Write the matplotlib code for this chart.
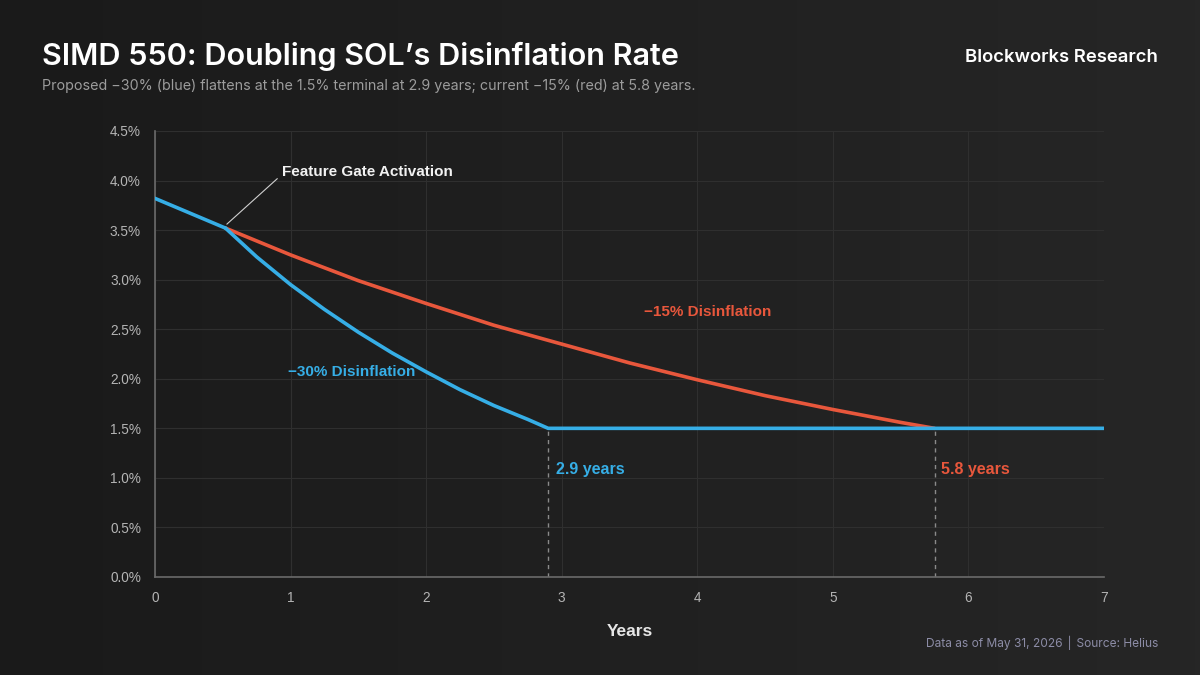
import numpy as np
import matplotlib
matplotlib.use("Agg")
import matplotlib.pyplot as plt
from matplotlib.ticker import FuncFormatter

# values (years, inflation %)
years_pre = [0.0, 0.52]
rate_pre = [3.82, 3.52]

years_blue = [0.52, 0.75, 1.0, 1.25, 1.5, 1.75, 2.0, 2.25, 2.5, 2.75, 2.9, 7.0]
rate_blue = [3.52, 3.23, 2.95, 2.70, 2.47, 2.26, 2.07, 1.89, 1.73, 1.59, 1.50, 1.50]

years_red = [0.52, 1.0, 1.5, 2.0, 2.5, 3.0, 3.5, 4.0, 4.5, 5.0, 5.5, 5.75]
rate_red = [3.52, 3.25, 2.99, 2.76, 2.54, 2.35, 2.16, 1.99, 1.83, 1.69, 1.56, 1.50]

terminal = 1.5
hit_blue = 2.9
hit_red = 5.75

x_ticks = [0, 1, 2, 3, 4, 5, 6, 7]
y_ticks = [0.0, 0.5, 1.0, 1.5, 2.0, 2.5, 3.0, 3.5, 4.0, 4.5]

BLUE = "#36aee6"
RED = "#e8573c"
BG = "#1d1d1d"
TXT = "#b4b4b4"

fig = plt.figure(figsize=(12, 6.75), dpi=100)
fig.patch.set_facecolor(BG)

# soft background gradient
grad = np.linspace(0, 1, 256).reshape(1, -1)
bg_ax = fig.add_axes([0, 0, 1, 1], zorder=-10)
bg_ax.imshow(grad, aspect="auto", cmap=matplotlib.colors.LinearSegmentedColormap.from_list(
    "bg", ["#1a1a1a", "#262626"]), extent=[0, 1, 0, 1])
bg_ax.axis("off")

ax = fig.add_axes([155 / 1200, 1 - 577 / 675, (1104 - 155) / 1200, (577 - 131) / 675])
ax.set_facecolor("none")

ax.plot(years_red, rate_red, color=RED, lw=2.6, solid_capstyle="round", zorder=3)
ax.plot(years_blue, rate_blue, color=BLUE, lw=2.6, solid_capstyle="round", zorder=4)
ax.plot(years_pre, rate_pre, color=BLUE, lw=2.6, solid_capstyle="round", zorder=4)

# dashed markers where each path hits the terminal rate
for xv in (hit_blue, hit_red):
    ax.plot([xv, xv], [0, terminal], color="#8a8a8a", lw=1, ls=(0, (3, 3)), zorder=2)

ax.set_xlim(0, 7)
ax.set_ylim(0, 4.5)
ax.set_xticks(x_ticks)
ax.set_yticks(y_ticks)
ax.yaxis.set_major_formatter(FuncFormatter(lambda v, p: f"{v:.1f}%"))
ax.grid(True, color="#2f2f2f", lw=0.8)
ax.set_axisbelow(True)
for s in ("top", "right"):
    ax.spines[s].set_visible(False)
for s in ("left", "bottom"):
    ax.spines[s].set_color("#6a6a6a")
    ax.spines[s].set_linewidth(1.2)
ax.tick_params(length=0, pad=10, labelsize=9.8, colors=TXT)
for lab in ax.get_xticklabels() + ax.get_yticklabels():
    lab.set_fontfamily("Liberation Sans")

ax.set_xlabel("Years", fontsize=12.5, fontweight="bold", color="#e6e6e6",
              family="Liberation Sans", labelpad=14)

# annotations
ax.annotate("Feature Gate Activation", xy=(0.53, 3.56), xytext=(0.94, 4.09),
            fontsize=11, fontweight="bold", color="#f2f2f2", family="Liberation Sans",
            ha="left", va="center",
            arrowprops=dict(arrowstyle="-", color="#d0d0d0", lw=0.8, shrinkA=0,
                            shrinkB=0, relpos=(-0.03, 0.0)))
ax.text(4.08, 2.67, "\u221215% Disinflation", color=RED, fontsize=11, fontweight="bold",
        family="Liberation Sans", ha="center", va="center")
ax.text(1.45, 2.07, "\u221230% Disinflation", color=BLUE, fontsize=11, fontweight="bold",
        family="Liberation Sans", ha="center", va="center")
ax.text(hit_blue + 0.055, 1.08, "2.9 years", color=BLUE, fontsize=11.5, fontweight="bold",
        family=["Liberation Sans Narrow", "Liberation Sans"], ha="left", va="center")
ax.text(hit_red + 0.05, 1.08, "5.8 years", color=RED, fontsize=11.5, fontweight="bold",
        family=["Liberation Sans Narrow", "Liberation Sans"], ha="left", va="center")

# header and footer
fig.text(42 / 1200, 1 - 56 / 675, "SIMD 550: Doubling SOL\u2019s Disinflation Rate",
         fontsize=22, fontweight="semibold", color="#ffffff", family="Inter",
         ha="left", va="center")
fig.text(42 / 1200, 1 - 86 / 675,
         "Proposed \u221230% (blue) flattens at the 1.5% terminal at 2.9 years; "
         "current \u221215% (red) at 5.8 years.",
         fontsize=10.3, color="#9c9c9c", family="Inter", ha="left", va="center")
fig.text(1158 / 1200, 1 - 57 / 675, "Blockworks Research", fontsize=13.3,
         fontweight="semibold", color="#ffffff", family="Inter", ha="right", va="center")
fig.text(1158 / 1200, 1 - 643 / 675, "Data as of May 31, 2026 \u2502 Source: Helius",
         fontsize=8.6, color="#8c8ca6", family=["Inter", "DejaVu Sans"],
         ha="right", va="center")

fig.savefig("out.png", dpi=100, facecolor=BG)
